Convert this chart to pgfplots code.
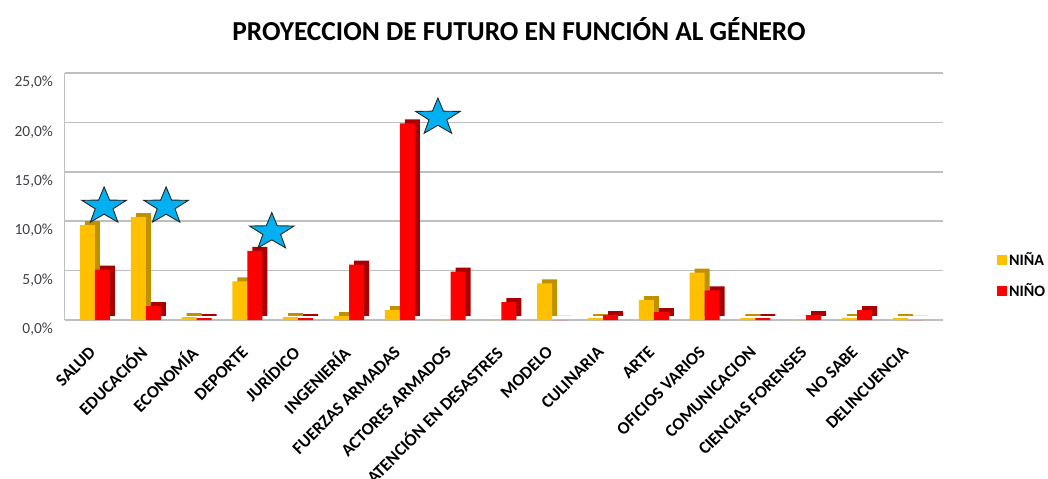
\documentclass[border=0pt]{standalone}
\usepackage{pgfplots}
\pgfplotsset{compat=1.18}
\usepackage{pgfplotstable}
\usepackage{fontspec}
\setmainfont{Carlito}

\definecolor{nina}{HTML}{FFC000}
\definecolor{ninadark}{HTML}{BF9000}
\definecolor{nino}{HTML}{FF0000}
\definecolor{ninodark}{HTML}{A80000}
\definecolor{starblue}{HTML}{00B0F0}
\definecolor{gridgray}{HTML}{BFBFBF}
\definecolor{ticktext}{HTML}{404048}

\pgfdeclareplotmark{fstar}{%
  \pgfpathmoveto{\pgfpointpolar{90}{\pgfplotmarksize}}%
  \pgfpathlineto{\pgfpointpolar{126}{0.40\pgfplotmarksize}}%
  \pgfpathlineto{\pgfpointpolar{162}{\pgfplotmarksize}}%
  \pgfpathlineto{\pgfpointpolar{198}{0.40\pgfplotmarksize}}%
  \pgfpathlineto{\pgfpointpolar{234}{\pgfplotmarksize}}%
  \pgfpathlineto{\pgfpointpolar{270}{0.40\pgfplotmarksize}}%
  \pgfpathlineto{\pgfpointpolar{306}{\pgfplotmarksize}}%
  \pgfpathlineto{\pgfpointpolar{342}{0.40\pgfplotmarksize}}%
  \pgfpathlineto{\pgfpointpolar{18}{\pgfplotmarksize}}%
  \pgfpathlineto{\pgfpointpolar{54}{0.40\pgfplotmarksize}}%
  \pgfpathclose
  \pgfusepathqfillstroke
}

\pgfplotstableread{
x nina nino
0 9.6 5.1
1 10.4 1.4
2 0.3 0.2
3 3.9 7.0
4 0.3 0.2
5 0.4 5.6
6 1.0 19.9
7 0 4.9
8 0 1.8
9 3.7 0
10 0.2 0.5
11 2.0 0.8
12 4.8 3.0
13 0.2 0.2
14 0 0.5
15 0.2 1.0
16 0.2 0
}\datatable

\begin{document}
\begin{tikzpicture}
\begin{axis}[
  at={(64.5bp,159bp)}, anchor=south west,
  scale only axis,
  width=878.9bp, height=247bp,
  xmin=-0.6, xmax=16.7,
  ymin=0, ymax=25,
  clip=false,
  axis x line*=bottom,
  axis y line*=left,
  axis line style={gridgray, line width=1.2bp},
  major tick length=0pt,
  ymajorgrids,
  grid style={gridgray, line width=1.5bp},
  ytick={0,5,10,15,20,25},
  yticklabels={{0,0\%},{5,0\%},{10,0\%},{15,0\%},{20,0\%},{25,0\%}},
  yticklabel style={font=\fontsize{15.5}{17}\selectfont, text=ticktext, xshift=-8bp, yshift=-9.5bp},
  xtick={0,...,16},
  xticklabels={SALUD,EDUCACIÓN,ECONOMÍA,DEPORTE,JURÍDICO,INGENIERÍA,FUERZAS ARMADAS,ACTORES ARMADOS,ATENCIÓN EN DESASTRES,MODELO,CULINARIA,ARTE,OFICIOS VARIOS,COMUNICACION,CIENCIAS FORENSES,NO SABE,DELINCUENCIA},
  xticklabel style={xshift=0bp, yshift=-27bp, rotate=45, anchor=east, font=\fontsize{17.5}{19}\selectfont\bfseries},
  legend style={at={(1.061,0.283)}, anchor=north west, draw=none, fill=none,
    font=\fontsize{16}{17}\selectfont\bfseries, row sep=13bp,
    legend cell align=left, inner sep=0pt},
  legend image code/.code={\fill[#1] (0bp,-5bp) rectangle (10bp,5bp);},
]
% depth faces
\addplot[ybar, bar width=15bp, bar shift=-7.5bp, fill=ninadark, draw=none, xshift=5bp, yshift=4bp, forget plot] table[x=x,y=nina] {\datatable};
\addplot[ybar, bar width=15bp, bar shift=7.5bp, fill=ninodark, draw=none, xshift=5bp, yshift=4bp, forget plot] table[x=x,y=nino] {\datatable};
% front faces
\addplot[ybar, bar width=15bp, bar shift=-7.5bp, fill=nina, draw=none] table[x=x,y=nina] {\datatable};
\addlegendentry{NIÑA}
\addplot[ybar, bar width=15bp, bar shift=7.5bp, fill=nino, draw=none] table[x=x,y=nino] {\datatable};
\addlegendentry{NIÑO}
% stars
\addplot[only marks, mark=fstar, mark size=19.5bp, forget plot,
  mark options={fill=starblue, draw=black!85, line width=0.9bp, xscale=1.2}]
  coordinates {(0.18,11.5) (1.40,11.5) (3.48,8.9) (6.75,20.5)};
\end{axis}
\node[font=\fontsize{27.5}{31}\selectfont\bfseries] at (519bp,450bp) {PROYECCION DE FUTURO EN FUNCIÓN AL GÉNERO};
\pgfresetboundingbox
\path[use as bounding box] (0,0) rectangle (1048bp,479bp);
\end{tikzpicture}
\end{document}
